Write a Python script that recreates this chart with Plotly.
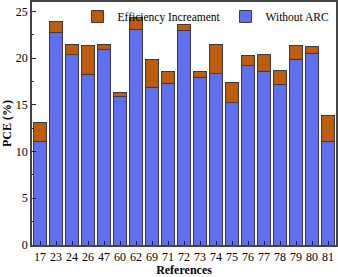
import plotly.graph_objects as go

categories = ["17", "23", "24", "26", "47", "60", "62", "69", "71", "72",
              "73", "74", "75", "76", "77", "78", "79", "80", "81"]
without_arc = [11.1, 22.7, 20.4, 18.2, 20.9, 15.9, 23.1, 16.9, 17.3, 23.0,
               17.9, 18.3, 15.3, 19.2, 18.6, 17.2, 19.9, 20.5, 11.1]
total_pce = [13.1, 23.9, 21.5, 21.3, 21.5, 16.3, 24.3, 19.8, 18.6, 23.6,
             18.6, 21.5, 17.4, 20.3, 20.4, 18.7, 21.3, 21.2, 13.9]
increment = [round(t - w, 2) for t, w in zip(total_pce, without_arc)]

blue = "#5F6FF0"
orange = "#BC5C0E"
font_family = "Liberation Serif"

fig = go.Figure()
fig.add_trace(go.Bar(x=categories, y=without_arc, name="Without ARC",
                     marker=dict(color=blue, line=dict(color="#3a3a3a", width=1))))
fig.add_trace(go.Bar(x=categories, y=increment, name="Efficiency Increament",
                     marker=dict(color=orange, line=dict(color="#3a3a3a", width=1))))

fig.update_layout(
    barmode="stack",
    bargap=0.15,
    width=338, height=277,
    margin=dict(l=32, r=2, t=2, b=32),
    paper_bgcolor="white", plot_bgcolor="white",
    font=dict(family=font_family, size=12, color="black"),
    showlegend=True,
    legend=dict(orientation="h", traceorder="reversed", x=0.995, y=1.0,
                xanchor="right", yanchor="top", bgcolor="rgba(255,255,255,0)",
                font=dict(size=11.5, family=font_family), itemwidth=30,
                tracegroupgap=0),
    xaxis=dict(
        title=dict(text="<b>References</b>", font=dict(size=12), standoff=2),
        automargin=False,
        showline=True, linecolor="#444", linewidth=1.5, mirror=True,
        ticks="inside", ticklen=4, tickcolor="#223", tickfont=dict(size=12),
        showgrid=False,
    ),
    yaxis=dict(
        title=dict(text="<b>PCE (%)</b>", font=dict(size=12), standoff=4),
        automargin=False,
        range=[0, 26], tickvals=[0, 5, 10, 15, 20, 25],
        showline=True, linecolor="#444", linewidth=1.5, mirror=True,
        ticks="inside", ticklen=4, tickcolor="#223", tickfont=dict(size=12),
        minor=dict(ticks="inside", ticklen=2, dtick=2.5, tickcolor="#223"),
        showgrid=False, zeroline=False,
    ),
)

fig.write_html("out.html", config={"displayModeBar": False},
               post_script="document.body.style.margin='0';document.body.style.overflow='hidden';")
